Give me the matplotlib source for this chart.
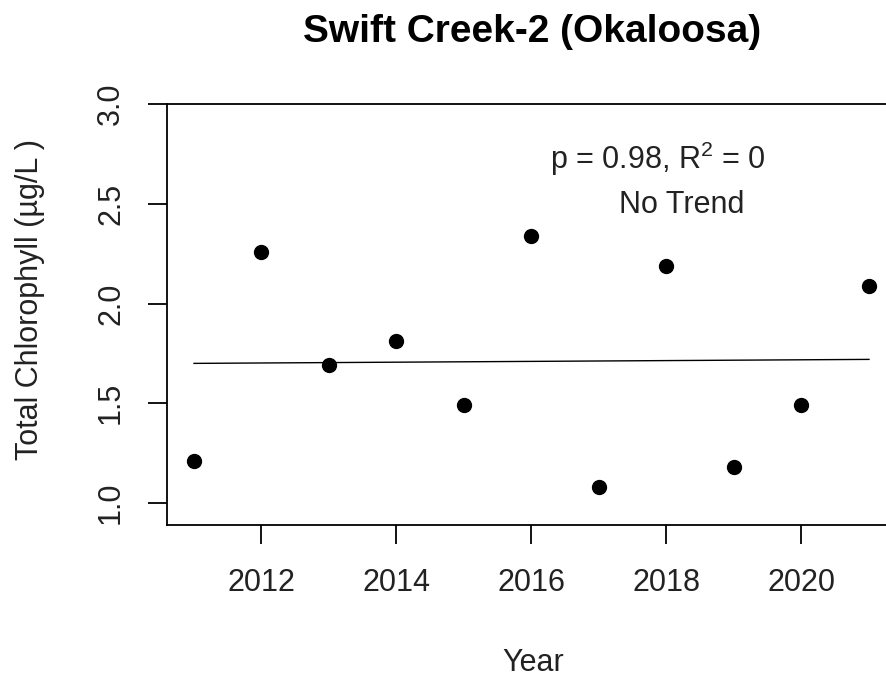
import numpy as np
import matplotlib
matplotlib.use('Agg')
import matplotlib.pyplot as plt

plt.rcParams['font.family'] = ['Liberation Sans', 'DejaVu Sans']
plt.rcParams['mathtext.fontset'] = 'custom'
plt.rcParams['mathtext.rm'] = 'Liberation Sans'
plt.rcParams['mathtext.it'] = 'Liberation Sans'

# annual values
years = [2011, 2012, 2013, 2014, 2015, 2016, 2017, 2018, 2019, 2020, 2021]
chl = [1.21, 2.26, 1.69, 1.81, 1.49, 2.34, 1.08, 2.19, 1.18, 1.49, 2.09]

# fitted trend line end points
trend_years = [2011, 2021]
trend_vals = [1.70, 1.72]

yticks = [1.0, 1.5, 2.0, 2.5, 3.0]
xticks = [2012, 2014, 2016, 2018, 2020]

fs = 22
fig = plt.figure(figsize=(8.87, 6.79), dpi=100)
ax = fig.add_axes([167/887, 1 - 525/679, (896 - 167)/887, (525 - 104)/679])

ax.plot(years, chl, 'o', color='black', markersize=10)
ax.plot(trend_years, trend_vals, '-', color='black', lw=1.0)

ax.set_xlim(2010.6, 2021.4)
ax.set_ylim(0.89, 3.0)
ax.set_xticks(xticks)
ax.set_yticks(yticks)
ax.set_xticklabels([str(t) for t in xticks], fontsize=fs, color='#222222')
ax.set_yticklabels(['%.1f' % t for t in yticks], fontsize=fs, rotation=90,
                   va='center', color='#222222')
ax.tick_params(axis='both', length=13.5, width=1.3, direction='out')
ax.tick_params(axis='x', pad=17.5)
ax.tick_params(axis='y', pad=16)
for s in ax.spines.values():
  s.set_linewidth(1.3)

ax.text(2017.87, 2.675, r'p = 0.98, R$^2$ = 0', ha='center', va='baseline',
        fontsize=fs, color='#222222')
ax.text(2018.23, 2.455, 'No Trend', ha='center', va='baseline',
        fontsize=fs, color='#222222')

fig.text(532/887, 1 - 42/679, 'Swift Creek-2 (Okaloosa)', ha='center', va='baseline',
         fontsize=28, fontweight='bold')
fig.text(533/887, 1 - 663/679, 'Year', ha='center', va='center', fontsize=fs,
         color='#222222')
fig.text(30/887, 1 - 300/679, u'Total Chlorophyll (\u00b5g/L )', ha='center',
         va='center', rotation=90, fontsize=fs, color='#222222')

fig.savefig('out.png', dpi=100)
